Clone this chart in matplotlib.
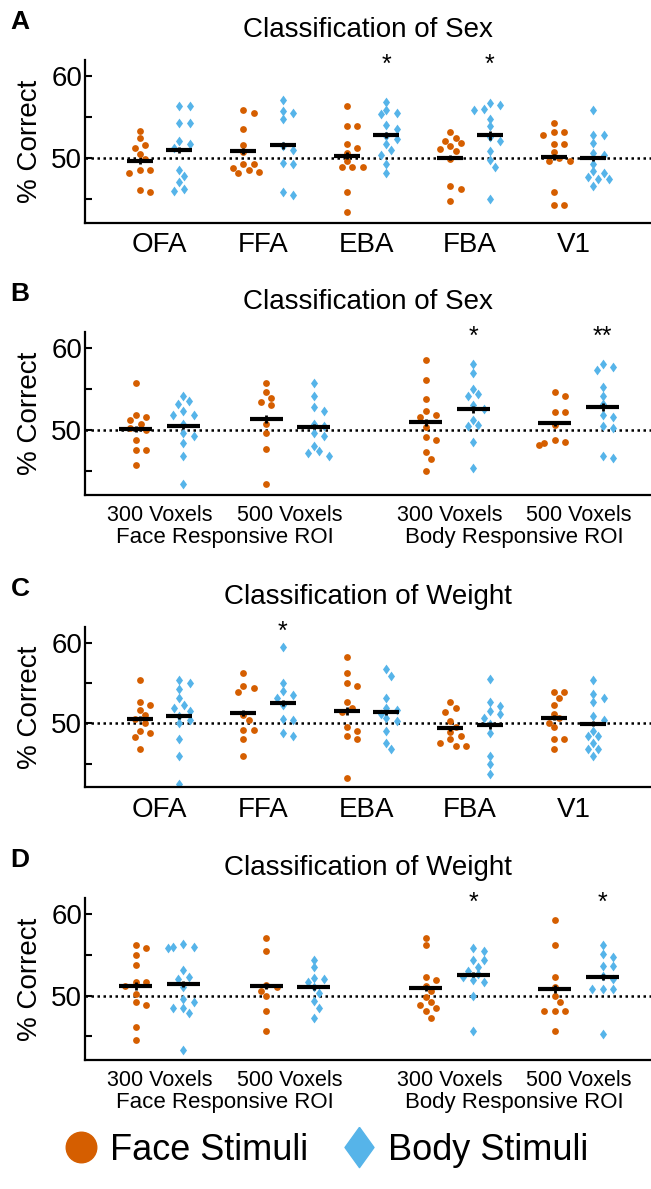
import numpy as np
import matplotlib
matplotlib.use('Agg')
import matplotlib.pyplot as plt
from matplotlib.lines import Line2D

plt.rcParams['font.family'] = ['Liberation Sans', 'DejaVu Sans']

face_col = '#D55E00'
body_col = '#56B4E9'
diamond = [(0, 1), (0.72, 0), (0, -1), (-0.72, 0), (0, 1)]

# ---- data (% correct per subject) ----
roi_names = ['OFA', 'FFA', 'EBA', 'FBA', 'V1']
vox_names = ['300 Voxels', '500 Voxels', '300 Voxels', '500 Voxels']
vox_groups = ['Face Responsive ROI', 'Body Responsive ROI']

sex_roi_face = [
    [53.3, 52.4, 51.6, 51.2, 50.5, 49.8, 48.5, 48.5, 48.1, 46.1, 45.8],
    [55.9, 55.5, 53.5, 51.6, 50.7, 49.3, 49.3, 48.8, 48.5, 48.3, 48.1],
    [56.3, 53.9, 53.9, 51.7, 51.2, 50.6, 49.6, 48.9, 48.9, 48.9, 45.8, 43.4],
    [53.2, 52.4, 52.1, 51.8, 51.4, 51.1, 50.8, 49.9, 46.6, 46.2, 44.7],
    [54.3, 53.2, 53.1, 52.8, 51.7, 51.7, 50.7, 50.0, 49.6, 49.6, 45.8, 44.2, 44.2],
]
sex_roi_body = [
    [56.3, 56.3, 54.3, 54.3, 52.0, 51.7, 51.2, 48.5, 47.8, 47.0, 46.2, 46.0],
    [57.1, 55.7, 55.5, 54.7, 51.4, 50.9, 49.4, 49.3, 45.8, 45.4],
    [56.8, 55.9, 55.5, 55.3, 54.0, 53.5, 52.7, 52.3, 51.7, 50.9, 50.4, 49.3, 48.1],
    [56.7, 56.4, 56.0, 55.9, 54.8, 53.9, 52.6, 52.1, 50.8, 49.7, 48.9, 45.0],
    [55.9, 52.8, 52.8, 51.8, 50.6, 50.4, 49.3, 48.4, 48.1, 47.7, 47.4, 47.4, 46.5],
]
sex_roi_face_err = [0.35, 0.35, 0.4, 0.3, 0.35]
sex_roi_body_err = [0.4, 0.4, 0.35, 0.55, 0.35]
sex_roi_stars = ['', '', '*', '*', '']

sex_vox_face = [
    [55.7, 51.9, 51.6, 51.2, 50.8, 50.3, 50.0, 48.8, 47.6, 47.6, 45.8],
    [55.7, 54.6, 53.9, 53.4, 53.0, 50.7, 49.6, 47.7, 43.4],
    [58.5, 56.1, 53.8, 52.3, 51.9, 51.6, 50.4, 49.2, 48.8, 47.3, 46.5, 45.0],
    [54.6, 54.2, 52.2, 52.2, 50.6, 48.8, 48.5, 48.2, 48.4],
]
sex_vox_body = [
    [54.2, 53.5, 53.2, 52.3, 51.9, 51.9, 50.8, 49.6, 49.3, 48.4, 46.9, 43.4],
    [55.7, 54.2, 52.8, 52.3, 50.7, 50.5, 49.6, 49.3, 48.1, 47.4, 47.2, 46.9],
    [58.1, 56.9, 55.0, 54.4, 54.1, 53.0, 52.6, 51.2, 50.6, 50.5, 48.5, 45.4],
    [58.1, 57.7, 57.3, 55.3, 54.2, 53.2, 51.9, 51.6, 50.5, 50.3, 46.9, 46.6],
]
sex_vox_face_err = [0.35, 0.45, 0.4, 0.3]
sex_vox_body_err = [0.35, 0.3, 0.45, 0.5]
sex_vox_stars = ['', '', '*', '**']

weight_roi_face = [
    [55.4, 52.7, 52.3, 51.6, 51.0, 50.5, 50.0, 49.1, 48.8, 48.3, 46.8],
    [56.3, 54.6, 54.4, 53.9, 51.0, 50.4, 49.2, 49.2, 48.0, 46.0],
    [58.2, 56.3, 55.0, 54.6, 52.6, 51.9, 51.4, 49.6, 49.1, 48.4, 48.0, 43.2],
    [52.7, 51.9, 51.4, 50.3, 49.5, 48.9, 48.4, 48.0, 47.6, 47.2, 47.2],
    [53.9, 53.9, 53.2, 52.3, 51.2, 50.6, 50.1, 49.5, 48.0, 48.0, 46.8],
]
weight_roi_body = [
    [55.4, 55.0, 54.2, 53.1, 52.3, 51.9, 51.5, 50.9, 50.4, 50.0, 48.0, 46.0, 42.5],
    [59.5, 55.0, 54.0, 53.5, 53.2, 52.3, 50.5, 50.4, 48.8, 48.4],
    [56.7, 55.9, 53.2, 51.9, 51.6, 51.2, 50.6, 50.3, 49.1, 47.6, 46.8],
    [55.5, 52.7, 52.2, 51.5, 51.2, 50.7, 49.9, 48.8, 46.0, 44.9, 43.7],
    [55.4, 53.6, 53.2, 52.7, 50.9, 50.4, 49.0, 48.4, 48.4, 47.6, 46.8, 46.8, 46.0],
]
weight_roi_face_err = [0.3, 0.4, 0.5, 0.35, 0.3]
weight_roi_body_err = [0.35, 0.35, 0.35, 0.45, 0.3]
weight_roi_stars = ['', '*', '', '', '']

weight_vox_face = [
    [56.2, 55.8, 55.0, 53.8, 51.6, 51.6, 51.2, 50.2, 49.2, 48.8, 46.1, 44.6],
    [57.1, 55.5, 51.3, 51.0, 50.6, 50.0, 48.1, 45.6],
    [57.1, 56.2, 52.3, 51.9, 51.2, 50.6, 49.8, 49.2, 48.8, 48.5, 48.1, 47.3],
    [59.3, 56.2, 52.3, 51.0, 50.0, 49.2, 48.1, 48.1, 48.1, 45.7],
]
weight_vox_body = [
    [56.3, 56.0, 55.9, 55.8, 53.1, 52.3, 52.0, 51.0, 49.6, 49.2, 48.5, 48.5, 47.8, 43.3],
    [54.4, 53.5, 52.2, 52.0, 51.6, 51.0, 50.3, 49.3, 48.5, 47.3],
    [55.8, 55.5, 54.3, 54.3, 53.5, 53.0, 52.6, 52.3, 51.9, 51.6, 50.0, 45.7],
    [56.2, 55.1, 54.7, 53.6, 53.6, 52.4, 52.0, 50.8, 50.8, 50.8, 45.3],
]
weight_vox_face_err = [0.45, 0.35, 0.4, 0.45]
weight_vox_body_err = [0.35, 0.3, 0.3, 0.35]
weight_vox_stars = ['', '', '*', '*']

# ---- layout (pixels of a 651 x 1189 image) ----
W, H = 651, 1189
fig = plt.figure(figsize=(W / 100, H / 100), dpi=100)

px_per_x = 103.5
ylo, yhi = 42.1, 61.95


def swarm(vals, ppy, d=7.0):
    # simple beeswarm: shift overlapping points sideways
    offs = np.zeros(len(vals))
    placed = []
    for i in np.argsort(vals)[::-1]:
        y = vals[i] * ppy
        for k in [0, 1, -1, 2, -2, 3, -3]:
            x = k * d * 0.75
            if all((x - a) ** 2 + (y - b) ** 2 >= d * d for a, b in placed):
                break
        placed.append((x, y))
        offs[i] = x / px_per_x
    return offs


def panel(top, bot, letter, title, pos, face, body, ferr, berr, stars,
          off, hw, ticklabels, tick_fs, groups=None):
    ax = fig.add_axes([85 / W, 1 - bot / H, 566 / W, (bot - top) / H])
    ppy = (bot - top) / (yhi - ylo)
    ax.set_xlim(0.28, 0.28 + 566 / px_per_x)
    ax.set_ylim(ylo, yhi)
    ax.axhline(50, color='k', ls=(0, (1, 1.4)), lw=1.8, zorder=1)
    for i, p in enumerate(pos):
        for vals, err, dx, col, mk, s in [
                (face[i], ferr[i], -off, face_col, 'o', 24),
                (body[i], berr[i], off, body_col, diamond, 50)]:
            v = np.array(vals)
            ax.scatter(p + dx + swarm(v, ppy), v, s=s, c=col, marker=mk,
                       lw=0, zorder=2)
            m = v.mean()
            ax.hlines(m, p + dx - hw, p + dx + hw, color='k', lw=3, zorder=3)
            ax.vlines(p + dx, m - err, m + err, color='k', lw=2, zorder=3)
        if stars[i]:
            ax.text(p + off, 61.3, stars[i], ha='center', va='center',
                    fontsize=18, clip_on=False)
    for s in ['top', 'right']:
        ax.spines[s].set_visible(False)
    for s in ['left', 'bottom']:
        ax.spines[s].set_linewidth(1.6)
    ax.set_yticks([45, 50, 55, 60])
    ax.set_yticklabels(['', '50', '', '60'])
    ax.tick_params(axis='y', direction='in', length=5, width=1.5,
                   labelsize=20, pad=2)
    ax.set_xticks(pos)
    ax.set_xticklabels(ticklabels)
    ax.tick_params(axis='x', length=0, labelsize=tick_fs, pad=7)
    if groups:
        for gx, g in zip([(pos[0] + pos[1]) / 2, (pos[2] + pos[3]) / 2], groups):
            ax.text(gx, -0.26, g, ha='center', va='center', fontsize=16,
                    transform=ax.get_xaxis_transform())
    mid = (top + bot) / 2
    fig.text(30 / W, 1 - mid / H, '% Correct', rotation=90, ha='center',
             va='center', fontsize=20)
    fig.text(368 / W, 1 - (top - 30) / H, title, ha='center', va='center',
             fontsize=20)
    fig.text(20 / W, 1 - (top - 38) / H, letter, ha='center', va='center',
             fontsize=19, fontweight='bold')
    return ax


roi_pos = [1, 2, 3, 4, 5]
vox_pos = [1.0, 2.26, 3.8, 5.05]

panel(60, 222.5, 'A', 'Classification of Sex', roi_pos, sex_roi_face,
      sex_roi_body, sex_roi_face_err, sex_roi_body_err, sex_roi_stars,
      0.19, 0.125, roi_names, 20)
panel(332, 495, 'B', 'Classification of Sex', vox_pos, sex_vox_face,
      sex_vox_body, sex_vox_face_err, sex_vox_body_err, sex_vox_stars,
      0.23, 0.16, vox_names, 15.5, vox_groups)
panel(627, 787, 'C', 'Classification of Weight', roi_pos, weight_roi_face,
      weight_roi_body, weight_roi_face_err, weight_roi_body_err,
      weight_roi_stars, 0.19, 0.125, roi_names, 20)
panel(898, 1060, 'D', 'Classification of Weight', vox_pos, weight_vox_face,
      weight_vox_body, weight_vox_face_err, weight_vox_body_err,
      weight_vox_stars, 0.23, 0.16, vox_names, 15.5, vox_groups)

handles = [Line2D([], [], marker='o', ls='none', color=face_col, ms=22),
           Line2D([], [], marker=diamond, ls='none', color=body_col, ms=29)]
fig.legend(handles, ['Face Stimuli', 'Body Stimuli'], loc='center',
           bbox_to_anchor=(0.5, 1 - 1150 / H), ncol=2, frameon=False,
           fontsize=26, handletextpad=0.3, columnspacing=0.9,
           handlelength=1.0)

fig.savefig('out.png', dpi=100)
